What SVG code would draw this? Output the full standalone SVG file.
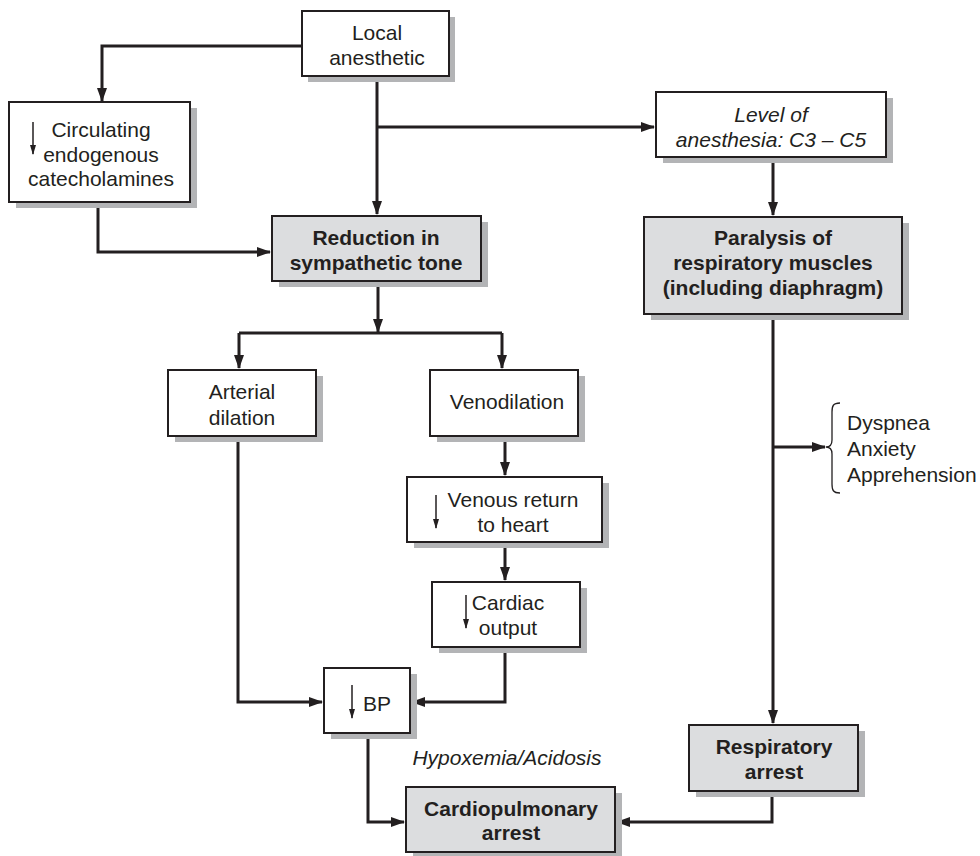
<svg xmlns="http://www.w3.org/2000/svg" width="980" height="856" viewBox="0 0 980 856">
<defs>
<marker id="ah" markerUnits="userSpaceOnUse" markerWidth="14" markerHeight="10" refX="13" refY="5" orient="auto">
<path d="M0,0 L14,5 L0,10 z" fill="#231f20"/>
</marker>
<marker id="sa" markerUnits="userSpaceOnUse" markerWidth="10" markerHeight="8" refX="9" refY="3" orient="auto">
<path d="M0,0 L10,3 L0,6 z" fill="#231f20"/>
</marker>
</defs>
<style>
.sh{fill:#b3b4b6}
.bx{fill:#fff;stroke:#231f20;stroke-width:2}
.gb{fill:#dcdddf;stroke:#231f20;stroke-width:2}
text{font-family:"Liberation Sans",Arial,Helvetica,sans-serif;font-size:21px;fill:#231f20;text-anchor:middle}
.b{font-weight:bold}
.i{font-style:italic}
.l{text-anchor:start}
.c{fill:none;stroke:#231f20;stroke-width:3;marker-end:url(#ah)}
.dn{fill:none;stroke:#231f20;stroke-width:1.5;marker-end:url(#sa)}
</style>
<rect width="980" height="856" fill="#fff"/>
<g id="connectors">
<path class="c" d="M302,46 H102 V101"/>
<path class="c" d="M377,76 V214"/>
<path class="c" d="M377,127 H654"/>
<path class="c" d="M98,202 V252 H270"/>
<path class="c" d="M773,157 V215"/>
<path class="c" d="M378,281 V332"/>
<path class="c" d="M239,333 H502 M239,333 V368"/>
<path class="c" d="M502,333 V368"/>
<path class="c" d="M505,436 V475"/>
<path class="c" d="M505,542 V580"/>
<path class="c" d="M238,436 V702 H322"/>
<path class="c" d="M505,647 V702 H412"/>
<path class="c" d="M368,733 V822 H404"/>
<path class="c" d="M773,314 V723"/>
<path class="c" d="M773,447 H825"/>
<path class="c" d="M772,791 V822 H617"/>
</g>
<g id="local-anesthetic">
<rect class="sh" x="308" y="17" width="147" height="65"/>
<rect class="bx" x="302" y="11" width="147" height="65"/>
<text x="377" y="40">Local</text>
<text x="377" y="65">anesthetic</text>
</g>
<g id="circulating">
<rect class="sh" x="16" y="108" width="181" height="100"/>
<rect class="bx" x="9" y="102" width="181" height="100"/>
<line class="dn" x1="33" y1="122" x2="33" y2="154"/>
<text x="101" y="137">Circulating</text>
<text x="101" y="162">endogenous</text>
<text x="101" y="186">catecholamines</text>
</g>
<g id="reduction">
<rect class="sh" x="279" y="222" width="209" height="65"/>
<rect class="gb" x="272" y="216" width="209" height="65"/>
<text class="b" x="376" y="245">Reduction in</text>
<text class="b" x="376" y="270">sympathetic tone</text>
</g>
<g id="level">
<rect class="sh" x="663" y="98" width="230" height="65"/>
<rect class="bx" x="656" y="92" width="230" height="65"/>
<text class="i" x="771" y="122">Level of</text>
<text class="i" x="771" y="147">anesthesia: C3 – C5</text>
</g>
<g id="paralysis">
<rect class="sh" x="651" y="223" width="258" height="97"/>
<rect class="gb" x="644" y="217" width="258" height="97"/>
<text class="b" x="773" y="245">Paralysis of</text>
<text class="b" x="773" y="270">respiratory muscles</text>
<text class="b" x="773" y="295">(including diaphragm)</text>
</g>
<g id="symptoms">
<path d="M840,403 C833,403 832,406 832,412 V440 C832,445 830,447 826,447 C830,447 832,449 832,454 V484 C832,490 833,493 840,493" fill="none" stroke="#231f20" stroke-width="1.3"/>
<text class="l" x="847" y="430">Dyspnea</text>
<text class="l" x="847" y="456">Anxiety</text>
<text class="l" x="847" y="482">Apprehension</text>
</g>
<g id="arterial">
<rect class="sh" x="175" y="376" width="148" height="66"/>
<rect class="bx" x="168" y="370" width="148" height="66"/>
<text x="242" y="399">Arterial</text>
<text x="242" y="425">dilation</text>
</g>
<g id="venodilation">
<rect class="sh" x="437" y="376" width="148" height="66"/>
<rect class="bx" x="430" y="370" width="148" height="66"/>
<text x="507" y="409">Venodilation</text>
</g>
<g id="venous-return">
<rect class="sh" x="414" y="483" width="195" height="65"/>
<rect class="bx" x="407" y="477" width="195" height="65"/>
<line class="dn" x1="436" y1="495" x2="436" y2="528"/>
<text x="513" y="507">Venous return</text>
<text x="513" y="532">to heart</text>
</g>
<g id="cardiac-output">
<rect class="sh" x="439" y="588" width="148" height="65"/>
<rect class="bx" x="432" y="582" width="148" height="65"/>
<line class="dn" x1="466" y1="595" x2="466" y2="628"/>
<text x="508" y="610">Cardiac</text>
<text x="508" y="635">output</text>
</g>
<g id="bp">
<rect class="sh" x="331" y="674" width="86" height="65"/>
<rect class="bx" x="324" y="668" width="86" height="65"/>
<line class="dn" x1="352" y1="685" x2="352" y2="718"/>
<text x="377" y="711">BP</text>
</g>
<g id="hypoxemia">
<text class="i" x="507" y="765">Hypoxemia/Acidosis</text>
</g>
<g id="respiratory-arrest">
<rect class="sh" x="696" y="731" width="169" height="66"/>
<rect class="gb" x="689" y="725" width="169" height="66"/>
<text class="b" x="774" y="754">Respiratory</text>
<text class="b" x="774" y="779">arrest</text>
</g>
<g id="cardiopulmonary">
<rect class="sh" x="413" y="793" width="209" height="65"/>
<rect class="gb" x="406" y="787" width="209" height="65"/>
<text class="b" x="511" y="816">Cardiopulmonary</text>
<text class="b" x="511" y="840">arrest</text>
</g>
</svg>
